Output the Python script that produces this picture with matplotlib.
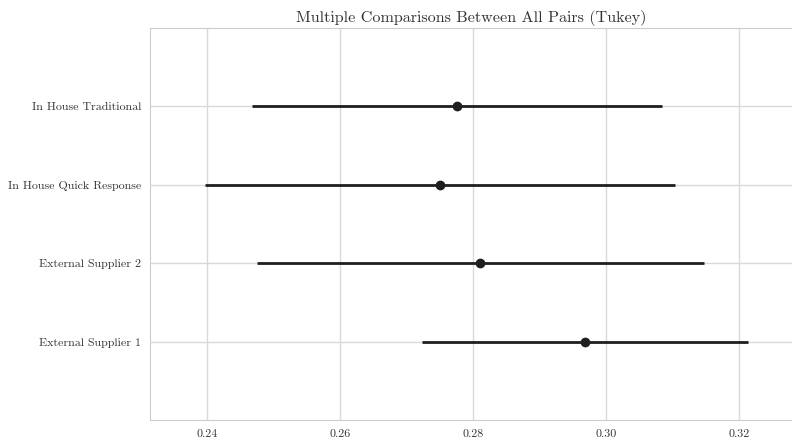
import numpy as np
import matplotlib
matplotlib.use("Agg")
import matplotlib.pyplot as plt
import seaborn as sns

# Tukey HSD simultaneous confidence intervals per group
groups = ["External Supplier 1", "External Supplier 2",
          "In House Quick Response", "In House Traditional"]
means = [0.2968, 0.2811, 0.2750, 0.2775]
lower = [0.2724, 0.2475, 0.2397, 0.2467]
upper = [0.3214, 0.3148, 0.3103, 0.3083]
xticks = [0.24, 0.26, 0.28, 0.30, 0.32]

sns.set_style("whitegrid")
plt.rcParams["font.family"] = ["cmr10", "DejaVu Serif"]
plt.rcParams["axes.formatter.use_mathtext"] = True
plt.rcParams["mathtext.fontset"] = "cm"

means = np.array(means)
halfwidth = (np.array(upper) - np.array(lower)) / 2
ypos = np.arange(len(groups))

fig = plt.figure(figsize=(7.92, 4.41), dpi=100)
ax = fig.add_axes([150 / 792, 21 / 441, 1 - 150 / 792, 392 / 441])

ax.errorbar(means, ypos, xerr=halfwidth, marker="o", linestyle="None",
            color="0.12", ecolor="0.12", lw=2, ms=6)

ax.set_ylim(-1, len(groups))
ax.set_yticks(ypos)
ax.set_yticklabels(groups)
ax.set_xlim(0.23145, 0.3279)
ax.set_xticks(xticks)
ax.set_xticklabels([f"{t:.2f}" for t in xticks])
ax.tick_params(axis="both", labelsize=8.6, colors="0.2", length=0)
ax.tick_params(axis="y", pad=6.5)
ax.tick_params(axis="x", pad=6.5)
ax.grid(True, color="0.85", lw=1)
for s in ax.spines.values():
    s.set_color("0.8")
ax.spines["right"].set_visible(False)
ax.set_title("Multiple Comparisons Between All Pairs (Tukey)", fontsize=11.6,
             color="0.2", pad=4)

fig.savefig("out.png", dpi=100)
